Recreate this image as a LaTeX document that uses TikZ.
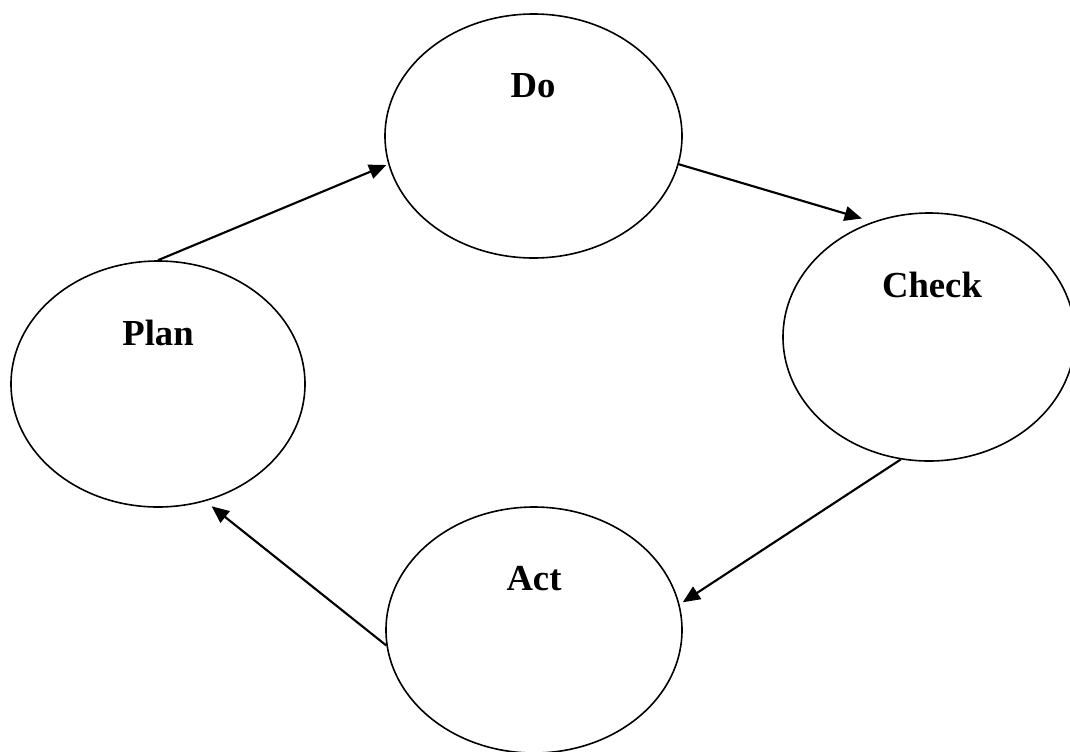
\documentclass[tikz,border=0pt]{standalone}
\usepackage{fontspec}
\setmainfont{Liberation Serif}
\usetikzlibrary{shapes.geometric,arrows.meta}
\begin{document}
\begin{tikzpicture}[x=0.75pt,y=-0.75pt,
  stage/.style={draw=black,ellipse,line width=1.2pt,inner sep=0pt},
  lbl/.style={anchor=base,inner sep=0pt,font=\fontsize{27.5}{33}\selectfont\bfseries},
  flow/.style={line width=1.6pt,-{Triangle[length=13pt,width=11pt]}}]
\useasboundingbox (0,0) rectangle (1070,751);
\node[stage,minimum width=220.5pt,minimum height=184.5pt] (plan) at (158,384) {};
\node[stage,minimum width=222.75pt,minimum height=183pt] (do) at (533.5,136) {};
\node[stage,minimum width=219pt,minimum height=186pt] (check) at (929,337) {};
\node[stage,minimum width=222pt,minimum height=184.5pt] (act) at (534,630) {};
\node[lbl] (planl) at (158,345) {Plan};
\node[lbl] (dol) at (533,97) {Do};
\node[lbl] (checkl) at (932,297) {Check};
\node[lbl] (actl) at (534,590) {Act};
\draw[flow,shorten >=1.5pt] (plan.north) -- (do.191.9);
\draw[flow,shorten >=8.5pt] (do.-11.4) -- (check.116.9);
\draw[flow,shorten >=2.8pt] (check.257.7) -- (act.10.7);
\draw[flow,shorten >=6pt] (act.186.55) -- (plan.-68.4);
\end{tikzpicture}
\end{document}
